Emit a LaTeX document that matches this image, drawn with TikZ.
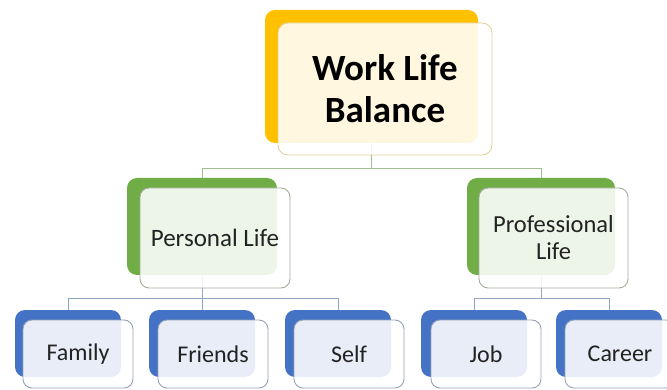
\documentclass[tikz,border=0pt]{standalone}
\usepackage{fontspec}
\setmainfont{Carlito}
\definecolor{accY}{HTML}{FFC000}
\definecolor{accG}{HTML}{70AD47}
\definecolor{accB}{HTML}{4472C4}
\definecolor{bdY}{HTML}{E2D49A}
\definecolor{bdG}{HTML}{A3AE9C}
\definecolor{bdB}{HTML}{97A3B8}
\definecolor{lnG}{HTML}{9FBF8C}
\definecolor{lnB}{HTML}{8FA6C4}
\definecolor{txt}{HTML}{222222}
\tikzset{
  backbox/.style={fill=#1, draw=none, rounded corners=10pt, inner sep=0pt, outer sep=0pt},
  frontbox/.style={fill=white, fill opacity=0.88, text opacity=1, draw=#1, line width=0.9pt,
    rounded corners=9pt, inner sep=0pt, outer sep=0pt, align=center, text=txt},
  lvlone/.style={draw=lnG, line width=0.9pt},
  lvltwo/.style={draw=lnB, line width=0.9pt},
}
\begin{document}
\begin{tikzpicture}[x=1pt,y=-1pt]
\useasboundingbox (0,0) rectangle (667,390);
\begin{scope}
\clip (0,0) rectangle (667,390);
% levels
\coordinate (h1) at (0,168);
\coordinate (h2) at (0,298);
% back boxes
\node[backbox=accY, minimum width=213pt, minimum height=133pt] (topB) at (371.5,76.5) {};
\node[backbox=accG, minimum width=150pt, minimum height=97pt] (plB) at (202,226.5) {};
\node[backbox=accG, minimum width=148pt, minimum height=97pt] (prB) at (541,226.5) {};
\node[backbox=accB, minimum width=106pt, minimum height=67pt] (faB) at (68,343.5) {};
\node[backbox=accB, minimum width=106pt, minimum height=67pt] (frB) at (202,343.5) {};
\node[backbox=accB, minimum width=106pt, minimum height=67pt] (seB) at (338,343.5) {};
\node[backbox=accB, minimum width=106pt, minimum height=67pt] (joB) at (474,343.5) {};
\node[backbox=accB, minimum width=106pt, minimum height=67pt] (caB) at (609,343.5) {};
% connectors
\draw[lvlone] (topB.south) -- (topB.south |- h1) -| (plB.north);
\draw[lvlone] (topB.south |- h1) -| (prB.north);
\draw[lvltwo] (plB.south) -- (plB.south |- h2) -| (faB.north);
\draw[lvltwo] (plB.south |- h2) -- (frB.north);
\draw[lvltwo] (plB.south |- h2) -| (seB.north);
\draw[lvltwo] (prB.south) -- (prB.south |- h2) -| (joB.north);
\draw[lvltwo] (prB.south |- h2) -| (caB.north);
% front boxes
\node[frontbox=bdY, rounded corners=10pt, minimum width=214pt, minimum height=132pt,
  font=\fontsize{37}{42}\selectfont\bfseries, text=black] (top) at (385,89) {Work Life\\Balance};
\node[frontbox=bdG, minimum width=150pt, minimum height=100pt,
  font=\fontsize{25}{28}\selectfont] (pl) at (215,238) {Personal Life};
\node[frontbox=bdG, minimum width=149pt, minimum height=100pt,
  font=\fontsize{24.5}{27}\selectfont] (pr) at (553.5,238) {Professional\\Life};
\node[frontbox=bdB, minimum width=110pt, minimum height=68pt,
  font=\fontsize{24}{28}\selectfont] (fa) at (78,354) {Family};
\node[frontbox=bdB, minimum width=110pt, minimum height=68pt,
  font=\fontsize{24}{28}\selectfont] (fr) at (213,354) {Friends};
\node[frontbox=bdB, minimum width=110pt, minimum height=68pt,
  font=\fontsize{24}{28}\selectfont] (se) at (349,354) {Self};
\node[frontbox=bdB, minimum width=110pt, minimum height=68pt,
  font=\fontsize{24}{28}\selectfont] (jo) at (486,354) {Job};
\node[frontbox=bdB, minimum width=110pt, minimum height=68pt,
  font=\fontsize{24}{28}\selectfont] (ca) at (620,354) {Career};
\end{scope}
\end{tikzpicture}
\end{document}
